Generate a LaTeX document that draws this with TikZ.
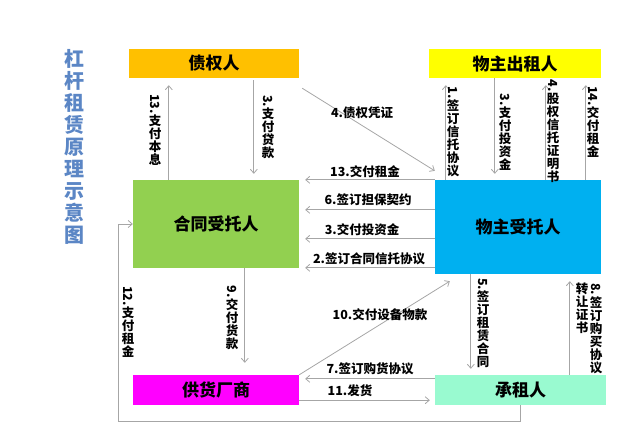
\documentclass[tikz,border=0pt]{standalone}
\usepackage{fontspec}
\usepackage{graphicx}
\setmainfont{Noto Sans CJK SC}
\usetikzlibrary{arrows.meta}

\definecolor{credcol}{HTML}{FFC000}
\definecolor{lessorcol}{HTML}{FFFF00}
\definecolor{trustacol}{HTML}{92D050}
\definecolor{trustbcol}{HTML}{00B0F0}
\definecolor{vendorcol}{HTML}{FF00FF}
\definecolor{lesseecol}{HTML}{99FAD0}
\definecolor{titlecol}{HTML}{5B86C5}
\definecolor{linecol}{HTML}{A6A6A6}

\def\labfont{\fontsize{12.5}{13}\selectfont\bfseries}
\def\boxfont{\fontsize{17}{20}\selectfont\bfseries}

\tikzset{
 box/.style={inner sep=0pt, font=\boxfont},
 arr/.style={draw=linecol, line width=0.8pt, -{Straight Barb[length=4pt,width=7pt]}},
 lab/.style={inner sep=0pt, font=\labfont},
 vlab/.style={lab, align=center},
}

\begin{document}
\begin{tikzpicture}[x=1pt,y=-1pt]
 \useasboundingbox (0,0) rectangle (640,437);
 % Title
 \node[inner sep=0pt, align=center, text=titlecol,
  font=\fontsize{20}{22.1}\selectfont\bfseries] (title) at (74,147)
  {杠\\杆\\租\\赁\\原\\理\\示\\意\\图};
 % Boxes
 \node[box, fill=credcol, minimum width=170pt, minimum height=29pt] (cred) at (214,63.5) {债权人};
 \node[box, fill=lessorcol, minimum width=172pt, minimum height=29pt] (lessor) at (515,63.5) {物主出租人};
 \node[box, fill=trustacol, minimum width=166pt, minimum height=88pt] (trustA) at (216,224) {合同受托人};
 \node[box, fill=trustbcol, minimum width=166pt, minimum height=94pt] (trustB) at (518,227) {物主受托人};
 \node[box, fill=vendorcol, minimum width=166pt, minimum height=30pt] (vendor) at (216,390) {供货厂商};
 \node[box, fill=lesseecol, minimum width=171pt, minimum height=30pt] (lessee) at (520.5,390) {承租人};

 % Upper left
 \draw[arr, shorten >=7pt] ([xshift=36pt]trustA.north west) -- ([xshift=40pt]cred.south west);
 \draw[arr, shorten >=6pt, shorten <=2pt] ([xshift=125pt]cred.south west) -- ([xshift=121pt]trustA.north west);
 \draw[arr] ([xshift=3pt,yshift=-10pt]cred.south east) -- ([yshift=9pt]trustB.north west);
 \node[vlab] (l13a) at (155,130) {\rotatebox{-90}{13.}\\支\\付\\本\\息};
 \node[vlab] (l3a) at (268,127) {\rotatebox{-90}{3.}\\支\\付\\贷\\款};
 \node[lab] (l4a) at (362,113) {4.债权凭证};

 % Upper right
 \draw[arr, shorten >=7pt] ([xshift=11pt]trustB.north west) -- ([xshift=17pt]lessor.south west);
 \draw[arr, shorten >=6pt] ([xshift=66pt]lessor.south west) -- ([xshift=60pt]trustB.north west);
 \draw[arr, shorten >=7pt] ([xshift=111pt]trustB.north west) -- ([xshift=117pt]lessor.south west);
 \draw[arr, shorten >=7pt] ([xshift=151pt]trustB.north west) -- ([xshift=157pt]lessor.south west);
 \node[vlab] (l1) at (453,132) {\rotatebox{-90}{1.}\\签\\订\\信\\托\\协\\议};
 \node[vlab] (l3b) at (505,132) {\rotatebox{-90}{3.}\\支\\付\\投\\资\\金};
 \node[vlab] (l4b) at (553,131) {\rotatebox{-90}{4.}\\股\\权\\信\\托\\证\\明\\书};
 \node[vlab] (l14) at (593,122) {\rotatebox{-90}{14.}\\交\\付\\租\\金};

 % Between the trustees
 \foreach \dy in {0,30,59,88}
  \draw[arr, shorten >=6pt] ([yshift=-\dy pt]trustB.north west) -- ([yshift=-\dy pt]trustA.north east);
 \node[lab] (l13b) at (365,172) {13.交付租金};
 \node[lab] (l6) at (368,200) {6.签订担保契约};
 \node[lab] (l3c) at (362,230) {3.交付投资金};
 \node[lab] (l2) at (369,259) {2.签订合同信托协议};

 % Lower part
 \coordinate (loop) at (118,421);
 \draw[arr, shorten >=12pt] ([xshift=112pt]trustA.south west) -- ([xshift=112pt]vendor.north west);
 \draw[arr] ([xshift=86pt]lessee.south west) |- (loop) |- (trustA.west);
 \draw[arr] (vendor.north east) -- ([xshift=15pt,yshift=-7pt]trustB.south west);
 \draw[arr, shorten >=6pt] ([yshift=-4pt]lessee.north west) -- ([yshift=-4pt]vendor.north east);
 \draw[arr, shorten >=5pt] ([yshift=5pt]vendor.south east) -- ([yshift=5pt]lessee.south west);
 \draw[arr, shorten >=6pt] ([xshift=36pt]trustB.south west) -- ([xshift=36pt]lessee.north west);
 \draw[arr, shorten >=7pt] ([xshift=135pt]lessee.north west) -- ([xshift=135pt]trustB.south west);
 \node[vlab] (l12) at (128,322) {\rotatebox{-90}{12.}\\支\\付\\租\\金};
 \node[vlab] (l9) at (232,318) {\rotatebox{-90}{9.}\\交\\付\\货\\款};
 \node[lab] (l10) at (380,315) {10.交付设备物款};
 \node[lab] (l7) at (370,369) {7.签订购货协议};
 \node[lab] (l11) at (350,391) {11.发货};
 \node[vlab] (l5) at (483,323) {\rotatebox{-90}{5.}\\签\\订\\租\\赁\\合\\同};
 \node[vlab, anchor=north] (l8) at (596,283) {\rotatebox{-90}{8.}\\签\\订\\购\\买\\协\\议};
 \node[vlab, anchor=north] (l8b) at (582,283) {转\\让\\证\\书};
\end{tikzpicture}
\end{document}
